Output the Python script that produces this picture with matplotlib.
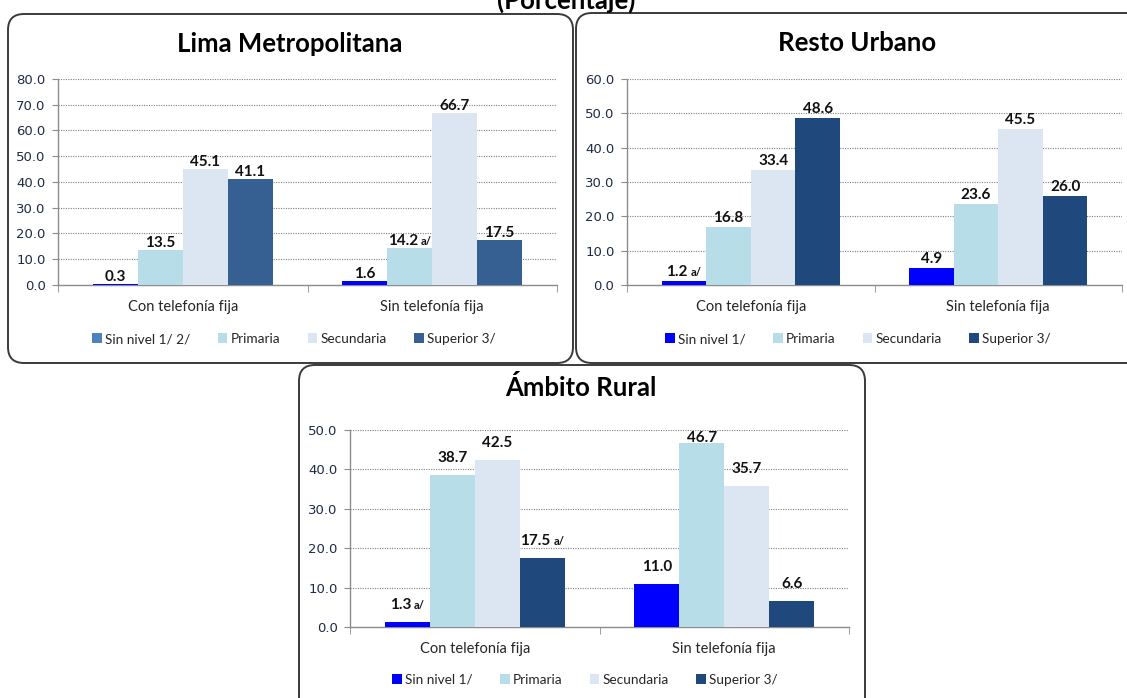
import matplotlib
matplotlib.use("Agg")
import matplotlib.pyplot as plt
from matplotlib.patches import FancyBboxPatch, Patch
import numpy as np

W, H = 1127, 698
DPI = 100

categories = ["Con telefonía fija", "Sin telefonía fija"]

# Lima Metropolitana
lima_sin_nivel = [0.3, 1.6]
lima_primaria = [13.5, 14.2]
lima_secundaria = [45.1, 66.7]
lima_superior = [41.1, 17.5]
lima_legend = ["Sin nivel 1/ 2/", "Primaria", "Secundaria", "Superior 3/"]
lima_notes = {(1, 1): "a/"}

# Resto Urbano
resto_sin_nivel = [1.2, 4.9]
resto_primaria = [16.8, 23.6]
resto_secundaria = [33.4, 45.5]
resto_superior = [48.6, 26.0]
resto_legend = ["Sin nivel 1/", "Primaria", "Secundaria", "Superior 3/"]
resto_notes = {(0, 0): "a/"}

# Ámbito Rural
rural_sin_nivel = [1.3, 11.0]
rural_primaria = [38.7, 46.7]
rural_secundaria = [42.5, 35.7]
rural_superior = [17.5, 6.6]
rural_legend = ["Sin nivel 1/", "Primaria", "Secundaria", "Superior 3/"]
rural_notes = {(0, 0): "a/", (3, 0): "a/"}

BLUE = "#0000FF"
PRIM = "#B7DEE8"
SECU = "#DCE6F2"
SUP_LIMA = "#376092"
SUP_DARK = "#1F497D"
TXT = "#262626"
TICK_TXT = "#1F2A44"
AX_COL = "#8C8C8C"

plt.rcParams["font.family"] = ["Lato", "DejaVu Sans"]

fig = plt.figure(figsize=(W / DPI, H / DPI), dpi=DPI)
fig.patch.set_facecolor("white")


def px_axes(left, right, top, bottom):
    return fig.add_axes([left / W, 1 - bottom / H, (right - left) / W, (bottom - top) / H])


def rounded_box(x0, y0, x1, y1):
    box = FancyBboxPatch((x0, H - y1), x1 - x0, y1 - y0,
                         boxstyle="round,pad=0,rounding_size=16",
                         transform=None, facecolor="white",
                         edgecolor="#3A3A3A", linewidth=1.4, zorder=-5)
    fig.patches.append(box)


def draw_panel(ax, series, colors, legend_colors, legend_labels, ymax,
               notes, gap_px, legend_xy, title, title_xy):
    x = np.arange(len(categories))
    width = 0.18
    offsets = (np.arange(len(series)) - (len(series) - 1) / 2) * width
    for i, vals in enumerate(series):
        ax.bar(x + offsets[i], vals, width, color=colors[i], edgecolor="none", zorder=3)

    ax.set_xlim(-0.5, len(categories) - 0.5)
    ax.set_ylim(0, ymax)
    yt = np.arange(0, ymax + 1, 10)
    ax.set_yticks(yt)
    ax.set_yticklabels([f"{v:.1f}" for v in yt], family="DejaVu Sans",
                       fontsize=9.5, color=TICK_TXT)
    ax.yaxis.grid(True, linestyle=(0, (1, 1.2)), color="#7F7F7F", linewidth=0.8)
    ax.set_axisbelow(True)
    ax.patch.set_visible(False)
    for s in ("top", "right"):
        ax.spines[s].set_visible(False)
    for s in ("left", "bottom"):
        ax.spines[s].set_color(AX_COL)
        ax.spines[s].set_linewidth(1.0)
    ax.tick_params(axis="y", length=4, color=AX_COL, pad=5)

    ax.set_xticks(x)
    ax.set_xticklabels(categories, fontsize=10.5, color=TXT)
    ax.tick_params(axis="x", which="major", length=0, pad=11)
    ax.set_xticks(np.arange(-0.5, len(categories)), minor=True)
    ax.tick_params(axis="x", which="minor", length=5, color=AX_COL)

    # value labels above bars
    bbox = ax.get_position()
    ax_px_h = bbox.height * H
    ppu = ax_px_h / ymax
    label_h = 15
    for i, vals in enumerate(series):
        for j, v in enumerate(vals):
            xp = j + offsets[i]
            yl = min(v + gap_px / ppu, ymax - label_h / ppu)
            note = notes.get((i, j))
            if note:
                t = ax.annotate(f"{v:.1f}", xy=(xp, yl), xytext=(-7, 0),
                                textcoords="offset pixels", ha="center",
                                va="bottom", fontsize=11, fontweight="bold",
                                color="#111111", zorder=5)
                ax.annotate(note, xy=(1, 0), xycoords=t, xytext=(3, 1),
                            textcoords="offset pixels", ha="left", va="bottom",
                            fontsize=8, fontweight="bold", color="#111111")
            else:
                ax.annotate(f"{v:.1f}", xy=(xp, yl), ha="center", va="bottom",
                            fontsize=11, fontweight="bold", color="#111111",
                            zorder=5)

    handles = [Patch(facecolor=c, edgecolor="none") for c in legend_colors]
    ax.legend(handles, legend_labels, loc="center", ncol=4, frameon=False,
              bbox_to_anchor=(legend_xy[0] / W, 1 - legend_xy[1] / H),
              bbox_transform=fig.transFigure, fontsize=9.8,
              handlelength=0.7, handleheight=0.8, handletextpad=0.25,
              columnspacing=2.0, labelcolor=TXT)

    fig.text(title_xy[0] / W, 1 - title_xy[1] / H, title, ha="center",
             va="center", fontsize=18.5, fontweight="bold", color="black")


# panel frames
rounded_box(8, 14, 573, 363)
rounded_box(576, 13, 1150, 363)
rounded_box(299, 365, 865, 715)

fig.text(566 / W, 1 - 0 / H, "(Porcentaje)", ha="center", va="center",
         fontsize=18.5, fontweight="bold", color="black")

ax1 = px_axes(58, 557, 79, 285)
draw_panel(ax1, [lima_sin_nivel, lima_primaria, lima_secundaria, lima_superior],
           [BLUE, PRIM, SECU, SUP_LIMA], ["#4F81BD", PRIM, SECU, SUP_LIMA],
           lima_legend, 80, lima_notes, 0, (294, 339), "Lima Metropolitana", (290, 44))

ax2 = px_axes(627, 1122, 79, 285)
draw_panel(ax2, [resto_sin_nivel, resto_primaria, resto_secundaria, resto_superior],
           [BLUE, PRIM, SECU, SUP_DARK], [BLUE, PRIM, SECU, SUP_DARK],
           resto_legend, 60, resto_notes, 2, (858, 339), "Resto Urbano", (857, 43))

ax3 = px_axes(350, 849, 430, 627)
draw_panel(ax3, [rural_sin_nivel, rural_primaria, rural_secundaria, rural_superior],
           [BLUE, PRIM, SECU, SUP_DARK], [BLUE, PRIM, SECU, SUP_DARK],
           rural_legend, 50, rural_notes, 10, (585, 680), "Ámbito Rural", (581, 388))

fig.savefig("out.png", dpi=DPI, facecolor="white")
